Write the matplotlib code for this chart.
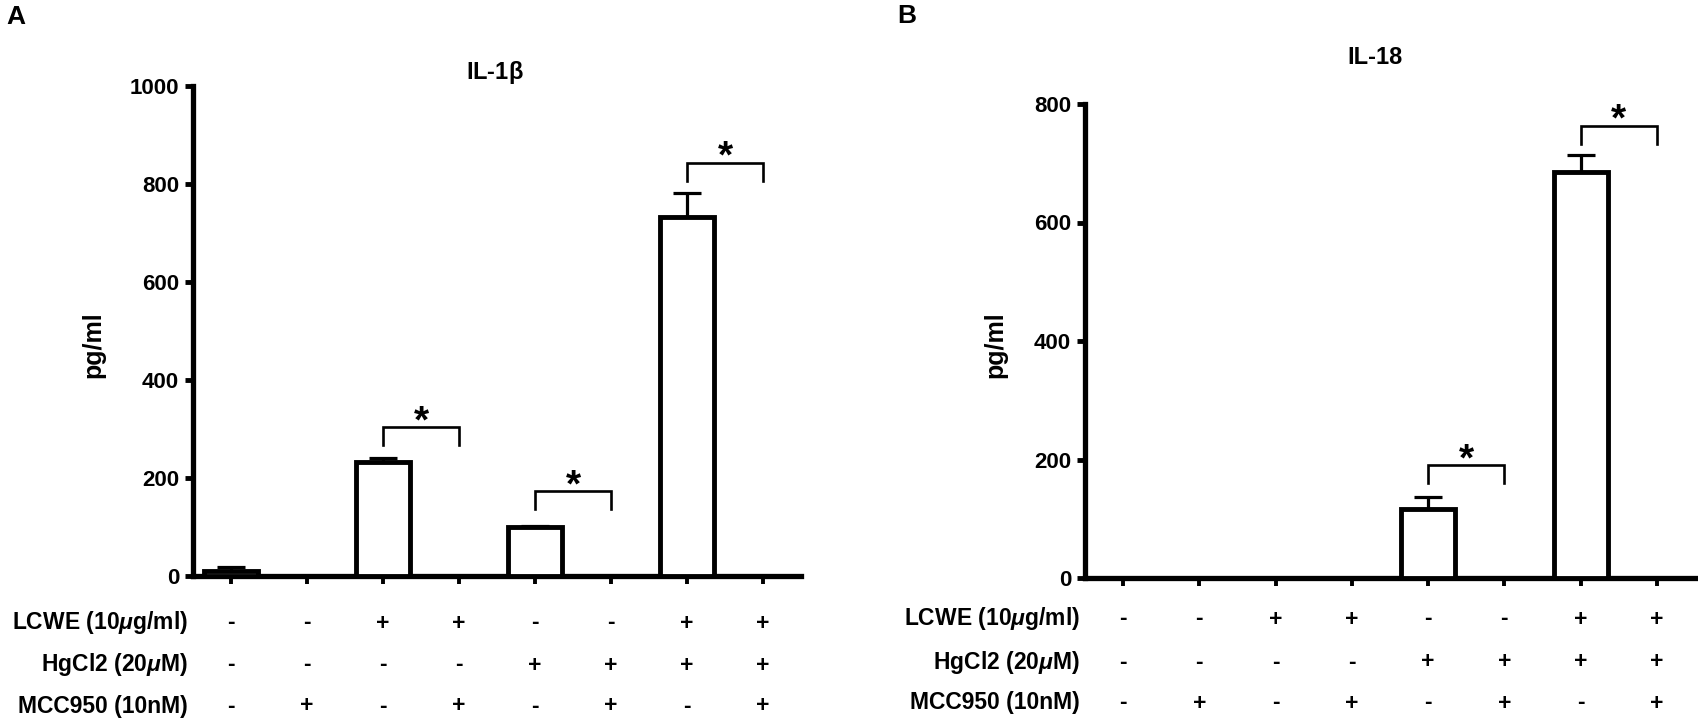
import numpy as np
import matplotlib.pyplot as plt
from matplotlib import transforms

plt.rcParams['font.family'] = ['Liberation Sans', 'DejaVu Sans']
plt.rcParams['font.weight'] = 'bold'
plt.rcParams['mathtext.fontset'] = 'custom'
plt.rcParams['mathtext.rm'] = 'Liberation Sans'
plt.rcParams['mathtext.it'] = 'Liberation Sans:italic:bold'
plt.rcParams['mathtext.bf'] = 'Liberation Sans:bold'

# conditii de tratament (8 grupuri)
lcwe = ['-', '-', '+', '+', '-', '-', '+', '+']
hgcl2 = ['-', '-', '-', '-', '+', '+', '+', '+']
mcc950 = ['-', '+', '-', '+', '-', '+', '-', '+']
row_names = [r'LCWE (10$\mathit{\mu}$g/ml)', r'HgCl2 (20$\mathit{\mu}$M)', 'MCC950 (10nM)']

# IL-1b
il1b = [10, 0, 233, 0, 101, 0, 733, 0]
il1b_err = [8, 0, 7, 0, 2, 0, 49, 0]
il1b_sig = [(2, 3, 304), (4, 5, 173), (6, 7, 843)]

# IL-18
il18 = [0, 0, 0, 0, 117, 0, 685, 0]
il18_err = [0, 0, 0, 0, 19, 0, 29, 0]
il18_sig = [(4, 5, 190), (6, 7, 763)]

W, H = 1699, 720
fig = plt.figure(figsize=(W / 100, H / 100), dpi=100)
axA = fig.add_axes([193 / W, 144 / H, 608 / W, 490 / H])
axB = fig.add_axes([1085 / W, 142 / H, 610 / W, 474 / H])


def panel(ax, vals, err, sig, ymax, step, rows_y, h_px):
    x = np.arange(len(vals))
    ax.bar(x, vals, width=0.71, facecolor='white', edgecolor='black',
           linewidth=3.5, zorder=3)
    e = np.array(err)
    m = e > 0
    ax.errorbar(x[m], np.array(vals)[m], yerr=[np.zeros(m.sum()), e[m]],
                fmt='none', ecolor='black', elinewidth=2.3, capsize=10,
                capthick=2.3, zorder=2)
    ax.set_xlim(-0.5, 7.5)
    ax.set_ylim(0, ymax)
    ax.set_yticks(np.arange(0, ymax + 1, step))
    ax.set_xticks(x)
    ax.tick_params(axis='x', direction='out', length=6, width=2.8, labelbottom=False)
    ax.tick_params(axis='y', direction='out', length=6, width=3.5, labelsize=16, pad=4)
    for s in ['top', 'right']:
        ax.spines[s].set_visible(False)
    for s in ['left', 'bottom']:
        ax.spines[s].set_linewidth(3.8)
        ax.spines[s].set_capstyle('projecting')

    u = ymax / h_px  # unitati pe pixel
    for i, j, yt in sig:
        leg = 18 * u
        ax.plot([i, i, j, j], [yt - leg, yt, yt, yt - leg], color='black',
                lw=1.9, clip_on=False, solid_joinstyle='miter')
        ax.text((i + j) / 2, yt + 5 * u, '*', ha='center', va='center',
                fontsize=28, clip_on=False)

    tr_d = transforms.blended_transform_factory(ax.transData, fig.transFigure)
    tr_a = transforms.blended_transform_factory(ax.transAxes, fig.transFigure)
    for name, row, yp in zip(row_names, [lcwe, hgcl2, mcc950], rows_y):
        yf = 1 - yp / H
        ax.text(-0.008, yf, name, transform=tr_a, ha='right', va='center', fontsize=16.5)
        for i, s in enumerate(row):
            ax.text(i, yf, s, transform=tr_d, ha='center', va='center', fontsize=16.5)


panel(axA, il1b, il1b_err, il1b_sig, 1000, 200, [623, 665, 706], 490)
panel(axB, il18, il18_err, il18_sig, 800, 200, [619, 662, 703], 474)

fig.text(6 / W, 1 - 17 / H, 'A', fontsize=19, ha='left', va='center')
fig.text(897 / W, 1 - 16 / H, 'B', fontsize=19, ha='left', va='center')
fig.text(495 / W, 1 - 72 / H, r'IL-1$\mathrm{\beta}$', fontsize=17, ha='center', va='center')
fig.text(1375 / W, 1 - 57 / H, 'IL-18', fontsize=17, ha='center', va='center')
fig.text(93 / W, 1 - 345 / H, 'pg/ml', fontsize=18, rotation=90, ha='center', va='center')
fig.text(995 / W, 1 - 345 / H, 'pg/ml', fontsize=18, rotation=90, ha='center', va='center')

fig.savefig('out.png', dpi=100)
